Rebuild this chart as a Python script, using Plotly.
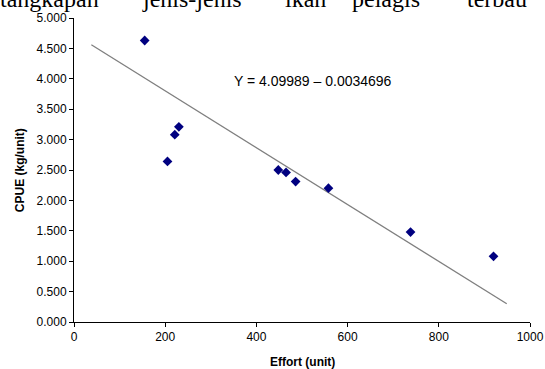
import plotly.graph_objects as go

# Data
effort = [155, 205, 221, 230, 448, 465, 486, 558, 738, 920]
cpue = [4.63, 2.64, 3.08, 3.21, 2.50, 2.46, 2.31, 2.20, 1.48, 1.08]
trend_x = [38, 949]
trend_y = [4.56, 0.30]
x_ticks = [0, 200, 400, 600, 800, 1000]
y_ticks = [0, 0.5, 1, 1.5, 2, 2.5, 3, 3.5, 4, 4.5, 5]
equation = "Y = 4.09989 – 0.0034696"
header_words = ["tangkapan", "jenis-jenis", "ikan", "pelagis", "terbau"]
header_x = [-2, 140, 283, 350, 465]

FONT = "Liberation Sans, Arial, sans-serif"

fig = go.Figure()
fig.add_trace(go.Scatter(x=trend_x, y=trend_y, mode="lines",
                         line=dict(color="#7f7f7f", width=1.3),
                         hoverinfo="skip", showlegend=False))
fig.add_trace(go.Scatter(x=effort, y=cpue, mode="markers",
                         marker=dict(symbol="diamond", size=7.5, color="#000080"),
                         showlegend=False))

ann = [
    dict(x=0.5, y=-0.133, xref="paper", yref="paper", text="<b>Effort (unit)</b>",
         showarrow=False, font=dict(family=FONT, size=12, color="black"),
         xanchor="center", yanchor="middle"),
    dict(x=-0.118, y=0.5, xref="paper", yref="paper", text="<b>CPUE (kg/unit)</b>",
         showarrow=False, textangle=-90, font=dict(family=FONT, size=12, color="black"),
         xanchor="center", yanchor="middle"),
    dict(x=346, y=3.97, xref="x", yref="y", text=equation, showarrow=False,
         font=dict(family=FONT, size=14, color="black"), xanchor="left", yanchor="middle"),
]
for w, px in zip(header_words, header_x):
    ann.append(dict(x=(px - 74) / 456, y=(321.5 - 14) / 304, xref="paper", yref="paper",
                    text=w, showarrow=False, xanchor="left", yanchor="bottom",
                    font=dict(family="Liberation Serif, Times New Roman, serif", size=24,
                              color="black")))

fig.update_layout(
    width=545, height=369,
    margin=dict(l=74, r=15, t=18, b=47, autoexpand=False),
    paper_bgcolor="white", plot_bgcolor="white",
    font=dict(family=FONT, size=12, color="black"),
    annotations=ann,
    xaxis=dict(range=[0, 1000], tickvals=x_ticks, ticks="outside", ticklen=4,
               tickcolor="black", showline=True, linecolor="black", linewidth=1,
               showgrid=False, zeroline=False, fixedrange=True, automargin=False),
    yaxis=dict(range=[0, 5], tickvals=y_ticks, tickformat=".3f", ticks="outside",
               ticklen=4, tickcolor="black", showline=True, linecolor="black",
               linewidth=1, showgrid=False, zeroline=False, fixedrange=True,
               automargin=False),
)

fig.write_html("out.html", config={"displayModeBar": False},
               post_script="document.body.style.margin='0';document.body.style.overflow='hidden';")
